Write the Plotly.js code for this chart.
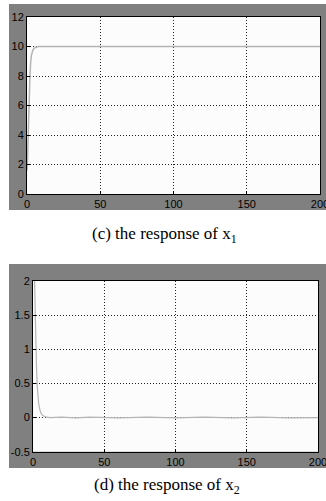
<!DOCTYPE html>
<html><head><meta charset="utf-8">
<script src="https://cdn.plot.ly/plotly-3.0.1.min.js"></script>
<style>html,body{margin:0;padding:0;background:#fff;overflow:hidden;width:326px;height:501px}#c{width:340px;height:501px}</style>
</head><body><div id="c"></div>
<script>
// x1 response (top)
const t1 = [0, 0.3, 0.6, 1, 1.5, 2, 2.5, 3, 4, 5, 6, 7, 8, 10, 20, 50, 100, 150, 200];
const x1 = [1.6, 2.0, 3.2, 5.0, 6.8, 8.0, 8.9, 9.4, 9.75, 9.9, 9.95, 9.98, 10, 10, 10, 10, 10, 10, 10];
// x2 response (bottom)
const t2 = [0, 1, 1.5, 2, 2.5, 3, 3.5, 4, 5, 6, 7, 8, 10, 12, 20, 30, 40, 60, 80, 100, 120, 140, 160, 180, 200];
const x2 = [2.3, 2.1, 1.6, 1.0, 0.72, 0.45, 0.3, 0.2, 0.1, 0.05, 0.03, 0.015, 0.005, 0, 0.005, -0.005, 0.005, -0.005, 0.005, -0.005, 0.005, -0.005, 0.005, -0.005, 0];
const xTicks = [0, 50, 100, 150, 200];
const y1Ticks = [0, 2, 4, 6, 8, 10, 12];
const y2Ticks = [-0.5, 0, 0.5, 1, 1.5, 2];
const y2Labels = ['-0.5', '0', '0.5', '1', '1.5', '2'];
const captions = ['(c) the response of x<sub>1</sub>', '(d) the response of x<sub>2</sub>'];

const W = 340, H = 501;
const px = v => v / W, py = v => 1 - v / H;
const tickFont = {family: '"Liberation Sans Narrow", "Liberation Sans", Arial, sans-serif', size: 11, color: '#000'};
const axBase = {
  showline: true, mirror: true, linecolor: '#000', linewidth: 1,
  showgrid: true, gridcolor: '#222', griddash: '1px,2px', gridwidth: 1,
  ticks: 'inside', ticklen: 3, tickcolor: '#000', zeroline: false,
  tickfont: tickFont, fixedrange: true
};
const traces = [
  {x: t1, y: x1, type: 'scatter', mode: 'lines', line: {color: '#b4b4b4', width: 1.5}, xaxis: 'x', yaxis: 'y', hoverinfo: 'skip'},
  {x: t2, y: x2, type: 'scatter', mode: 'lines', line: {color: '#b4b4b4', width: 1.2}, xaxis: 'x2', yaxis: 'y2', hoverinfo: 'skip'}
];
const layout = {
  width: W, height: H, showlegend: false,
  margin: {l: 0, r: 0, t: 0, b: 0},
  paper_bgcolor: '#fff', plot_bgcolor: '#fcfcfc',
  xaxis: Object.assign({}, axBase, {domain: [px(27), px(320)], range: [0, 200], tickvals: xTicks, anchor: 'y'}),
  yaxis: Object.assign({}, axBase, {domain: [py(194), py(17)], range: [0, 12], tickvals: y1Ticks, anchor: 'x'}),
  xaxis2: Object.assign({}, axBase, {domain: [px(33), px(318)], range: [0, 200], tickvals: xTicks, anchor: 'y2'}),
  yaxis2: Object.assign({}, axBase, {domain: [py(451.7), py(281)], range: [-0.5, 2], tickvals: y2Ticks, ticktext: y2Labels, anchor: 'x2'}),
  shapes: [
    {type: 'rect', xref: 'paper', yref: 'paper', x0: px(9), x1: 1, y0: py(210), y1: py(4), fillcolor: '#808080', line: {width: 0}, layer: 'below'},
    {type: 'rect', xref: 'paper', yref: 'paper', x0: px(9), x1: 1, y0: py(468), y1: py(264), fillcolor: '#808080', line: {width: 0}, layer: 'below'},
    {type: 'rect', xref: 'x domain', yref: 'y domain', x0: 0, x1: 1, y0: 0, y1: 1, fillcolor: '#fcfcfc', line: {width: 0}, layer: 'below'},
    {type: 'rect', xref: 'x2 domain', yref: 'y2 domain', x0: 0, x1: 1, y0: 0, y1: 1, fillcolor: '#fcfcfc', line: {width: 0}, layer: 'below'}
  ],
  annotations: [
    {text: captions[0], xref: 'paper', yref: 'paper', x: px(164), y: py(235), showarrow: false, xanchor: 'center', yanchor: 'middle', font: {family: '"Liberation Serif", "Times New Roman", serif', size: 17, color: '#000'}},
    {text: captions[1], xref: 'paper', yref: 'paper', x: px(167), y: py(486), showarrow: false, xanchor: 'center', yanchor: 'middle', font: {family: '"Liberation Serif", "Times New Roman", serif', size: 17, color: '#000'}}
  ]
};
Plotly.newPlot('c', traces, layout, {staticPlot: true, displayModeBar: false});
</script></body></html>
